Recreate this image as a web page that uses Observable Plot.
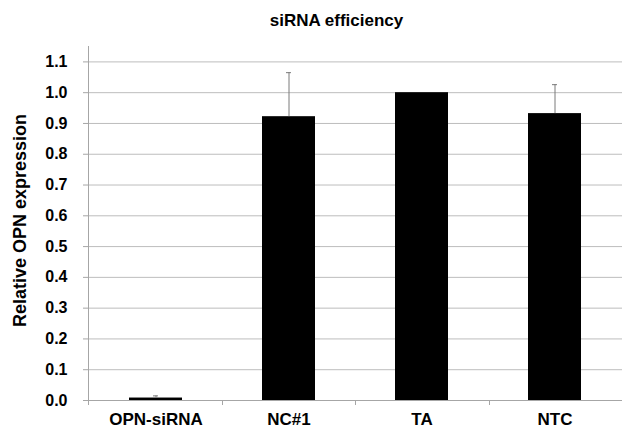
<!DOCTYPE html>
<html>
<head>
<meta charset="utf-8">
<script src="https://cdn.jsdelivr.net/npm/d3@7"></script>
<script src="https://cdn.jsdelivr.net/npm/@observablehq/plot@0.6"></script>
<style>
  html, body { margin: 0; padding: 0; background: #fff; }
  #chart svg { display: block; }
</style>
</head>
<body>
<div id="chart"></div>
<script>
const categories = ["OPN-siRNA", "NC#1", "TA", "NTC"];
const values = [0.008, 0.922, 1.0, 0.932];
const errors = [0.007, 0.143, 0.0, 0.094];
const yTicks = [0, 0.1, 0.2, 0.3, 0.4, 0.5, 0.6, 0.7, 0.8, 0.9, 1.0, 1.1];
const title = "siRNA efficiency";
const yLabel = "Relative OPN expression";

const data = categories.map((c, i) => ({cat: c, value: values[i], upper: values[i] + errors[i], err: errors[i]}));
const errData = data.filter(d => d.err > 0);

const FONT = "'Liberation Sans', Arial, sans-serif";

// left axis line + category boundary ticks
function axisLines(index, scales, values, dims) {
  const g = d3.create("svg:g").attr("stroke", "#a6a6a6").attr("stroke-width", 1);
  const left = dims.marginLeft, top = dims.marginTop, bottom = dims.height - dims.marginBottom;
  const right = dims.width - dims.marginRight;
  g.append("line").attr("x1", left + 0.5).attr("x2", left + 0.5).attr("y1", top).attr("y2", bottom);
  const n = categories.length;
  const step = (right - left) / n;
  for (let i = 0; i <= n; i++) {
    const x = Math.round(left + i * step) + 0.5;
    g.append("line").attr("x1", x).attr("x2", x).attr("y1", bottom).attr("y2", bottom + 5);
  }
  return g.node();
}

const plot = Plot.plot({
  width: 622,
  height: 430,
  marginLeft: 88,
  marginRight: 0,
  marginTop: 46,
  marginBottom: 30,
  style: {fontFamily: FONT, background: "#fff", overflow: "visible"},
  x: {domain: categories, paddingInner: 0.6, paddingOuter: 0.3, label: null},
  y: {domain: [0, 1.15], label: null},
  marks: [
    Plot.gridY(yTicks, {stroke: "#bdbdbd", strokeOpacity: 1}),
    Plot.ruleY([0], {stroke: "#a6a6a6"}),
    axisLines,
    Plot.barY(data, {x: "cat", y: "value", fill: "#000"}),
    Plot.ruleX(errData, {x: "cat", y1: "value", y2: "upper", stroke: "#7a7a7a", strokeWidth: 1}),
    Plot.tickY(errData, {x: "cat", y: "upper", stroke: "#7a7a7a", strokeWidth: 1, insetLeft: 24, insetRight: 24}),
    Plot.axisY(yTicks, {
      tickFormat: d => d.toFixed(1), tickSize: 5, tickPadding: 16, stroke: "#a6a6a6",
      fontSize: 16, fontWeight: "bold", label: null, fill: "#000"
    }),
    Plot.axisX({tickSize: 0, tickPadding: 12, fontSize: 17, fontWeight: "bold", label: null, fill: "#000"}),
    Plot.text([title], {frameAnchor: "top", lineAnchor: "middle", dy: -26, dx: -19, fontSize: 17, fontWeight: "bold", fill: "#000"}),
    Plot.text([yLabel], {frameAnchor: "left", textAnchor: "middle", lineAnchor: "middle", rotate: -90, dx: -68, dy: -3, fontSize: 18, fontWeight: "bold", fill: "#000"})
  ]
});
document.getElementById("chart").appendChild(plot);
</script>
</body>
</html>
